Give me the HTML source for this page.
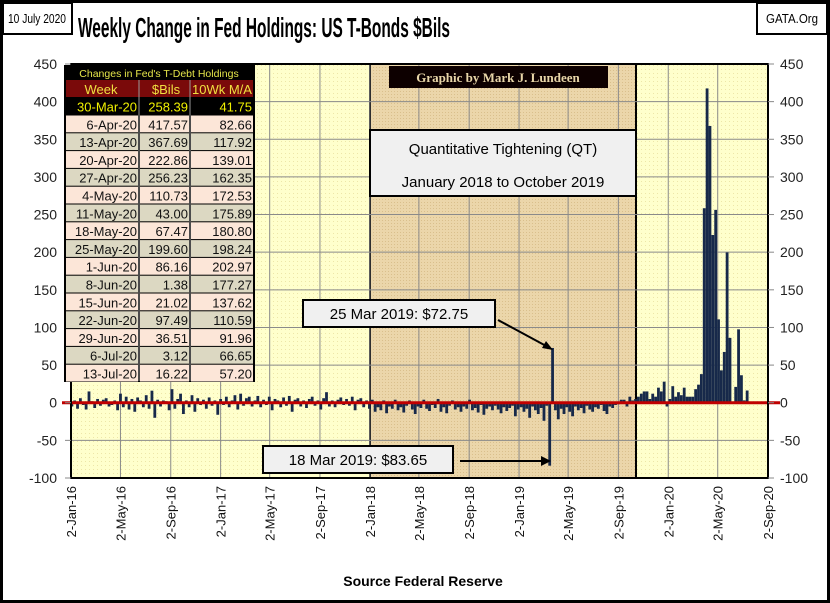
<!DOCTYPE html>
<html><head><meta charset="utf-8"><style>
body{margin:0;background:#fff;}
svg{display:block;font-family:"Liberation Sans",sans-serif;}
</style></head><body>
<svg id="c" width="830" height="603" viewBox="0 0 830 603">
<defs>
<pattern id="dots" width="4" height="4" patternUnits="userSpaceOnUse"><rect width="4" height="4" fill="#FFFFCC"/><rect x="1" y="1" width="1" height="1" fill="#EDE6A8"/></pattern>
<pattern id="tan" width="3" height="3" patternUnits="userSpaceOnUse"><rect width="3" height="3" fill="#EBD6AA"/><rect x="1" y="1" width="1" height="1" fill="#D9BF8C"/></pattern>
</defs>
<rect x="1.5" y="1.5" width="827" height="600" fill="#fff" stroke="#000" stroke-width="3"/>
<rect x="71" y="64" width="697" height="414" fill="url(#dots)"/>
<rect x="370" y="64" width="266" height="414" fill="url(#tan)" stroke="#000" stroke-width="2"/>
<g id="grid"></g>
<g id="bars"></g>
<line x1="62" x2="780" id="zero" stroke="#C00000" stroke-width="3"/>
<rect x="71" y="64" width="697" height="414" fill="none" stroke="#000" stroke-width="2"/>
<g id="axes"></g>
<rect x="3" y="3" width="69" height="31" fill="#fff" stroke="#000" stroke-width="2"/>
<text x="37" y="23" font-size="13" text-anchor="middle" textLength="58" lengthAdjust="spacingAndGlyphs">10 July 2020</text>
<rect x="757" y="3" width="70" height="31" fill="#fff" stroke="#000" stroke-width="2"/>
<text x="792" y="23" font-size="13" text-anchor="middle" textLength="52" lengthAdjust="spacingAndGlyphs">GATA.Org</text>
<text x="78" y="37" font-size="28" font-weight="bold" textLength="372" lengthAdjust="spacingAndGlyphs">Weekly Change in Fed Holdings: US T-Bonds $Bils</text>
<rect x="389" y="66" width="219" height="22" fill="#0d0000"/>
<text x="498" y="82" font-size="13" font-weight="bold" fill="#E8D6A8" text-anchor="middle" font-family="Liberation Serif,serif">Graphic by Mark J. Lundeen</text>
<rect x="370" y="130" width="266" height="66" fill="#F0F0F0" stroke="#000" stroke-width="2"/>
<text x="503" y="154" font-size="15" text-anchor="middle">Quantitative  Tightening  (QT)</text>
<text x="503" y="187" font-size="15" text-anchor="middle">January 2018 to October 2019</text>
<rect x="303" y="300" width="192" height="27" fill="#F0F0F0" stroke="#000" stroke-width="2"/>
<text x="399" y="319" font-size="15" text-anchor="middle">25 Mar 2019: $72.75</text>
<line x1="498" y1="320" x2="548" y2="347" stroke="#000" stroke-width="2"/>
<polygon points="553,350 542,348 546,341" fill="#000"/>
<rect x="263" y="446" width="190" height="27" fill="#F0F0F0" stroke="#000" stroke-width="2"/>
<text x="358" y="465" font-size="15" text-anchor="middle">18 Mar 2019: $83.65</text>
<line x1="460" y1="461" x2="545" y2="461" stroke="#000" stroke-width="2"/>
<polygon points="551,461 541,456 541,466" fill="#000"/>
<g id="table"></g>
<text x="423" y="586" font-size="14" font-weight="bold" text-anchor="middle">Source Federal Reserve</text>
</svg>
<script>
const yTicks=[-100,-50,0,50,100,150,200,250,300,350,400,450];
const xTickLabels=["2-Jan-16","2-May-16","2-Sep-16","2-Jan-17","2-May-17","2-Sep-17","2-Jan-18","2-May-18","2-Sep-18","2-Jan-19","2-May-19","2-Sep-19","2-Jan-20","2-May-20","2-Sep-20"];
const xTickDates=["2016-01-02","2016-05-02","2016-09-02","2017-01-02","2017-05-02","2017-09-02","2018-01-02","2018-05-02","2018-09-02","2019-01-02","2019-05-02","2019-09-02","2020-01-02","2020-05-02","2020-09-02"];
const firstWeek="2016-01-04";
const v2016=[-5,3,-8,6,-3,-9,15,2,-7,5,-4,4,6,-5,-3,3,-10,12,-6,8,-9,5,-12,7,3,-6,10,-8,16,-20,4,-5,3,2,-10,18,-8,5,12,-15,3,-6,10,-12,6,-3,4,-8,7,-4,3,-16];
const v2017=[5,-3,8,-6,3,10,-9,12,-4,6,8,-5,3,9,-6,4,-3,8,-10,5,3,-6,7,-4,9,-12,4,6,-5,3,-7,5,8,-4,3,-9,6,14,-5,3,-6,4,7,-3,5,-4,8,-10,4,6,-6,3];
const v2018=[-8,4,-12,-6,-10,3,-14,-5,-8,4,-10,-6,-13,-4,3,-9,-15,-5,-7,4,-8,-11,-3,-7,5,-12,-6,-14,-4,3,-9,-6,-12,-5,-8,4,-10,-7,-13,-3,-16,-8,-5,-10,-4,-9,-14,-6,-11,-7,-4,-18,-9];
const v2019=[-6,-12,-8,-20,-5,-10,-15,-7,-24,-4,-83.65,72.75,-10,-22,-8,-15,-6,-12,-18,-5,-10,-7,-14,-4,-9,-12,-6,-8,-3,-11,-15,-5,-7,-3,-2,4,4,-5,8,3,5,8,12,15,15,5,12,8,20,15,28,-5];
const v2020a=[5,22,8,14,10,20,8,8,8,18,24,38];
const tableWeeks=["30-Mar-20","6-Apr-20","13-Apr-20","20-Apr-20","27-Apr-20","4-May-20","11-May-20","18-May-20","25-May-20","1-Jun-20","8-Jun-20","15-Jun-20","22-Jun-20","29-Jun-20","6-Jul-20","13-Jul-20"];
const tableBils=[258.39,417.57,367.69,222.86,256.23,110.73,43.00,67.47,199.60,86.16,1.38,21.02,97.49,36.51,3.12,16.22];
const tableMA=[41.75,82.66,117.92,139.01,162.35,172.53,175.89,180.80,198.24,202.97,177.27,137.62,110.59,91.96,66.65,57.20];

const NS="http://www.w3.org/2000/svg";
const X0=71,X1=768,Y0=478,Y1=64;
const d0=Date.parse("2016-01-02"),d1=Date.parse("2020-09-02");
const xs=t=>X0+(t-d0)/(d1-d0)*(X1-X0);
const ys=v=>Y0-(v-(-100))/(550)*(Y0-Y1);
function mk(tag,attrs,parent){const e=document.createElementNS(NS,tag);for(const k in attrs)e.setAttribute(k,attrs[k]);parent.appendChild(e);return e;}
const grid=document.getElementById('grid'),axes=document.getElementById('axes'),bars=document.getElementById('bars');
document.getElementById('zero').setAttribute('y1',ys(0));document.getElementById('zero').setAttribute('y2',ys(0));
yTicks.forEach(v=>{const y=ys(v);
 const g=mk('line',{x1:X0,x2:X1,y1:y,y2:y,stroke:'#8a8a8a','stroke-width':1},grid);
 
 
 mk('line',{x1:X0-6,x2:X0,y1:y,y2:y,stroke:'#888'},axes);
 mk('line',{x1:X1,x2:X1+6,y1:y,y2:y,stroke:'#888'},axes);
 const t=mk('text',{x:X0-14,y:y+5,'font-size':14,'text-anchor':'end',fill:'#222'},axes);t.textContent=v;
 
 
 const t2=mk('text',{x:X1+12,y:y+5,'font-size':14,fill:'#222'},axes);t2.textContent=v;
 
 
});
xTickDates.forEach((d,i)=>{const x=xs(Date.parse(d));
 const g=mk('line',{x1:x,x2:x,y1:Y1,y2:Y0,stroke:'#8a8a8a','stroke-width':1},grid);
 
 
 const t=mk('text',{x:0,y:0,'font-size':13,'text-anchor':'end',transform:`translate(${x+5},${Y0+8}) rotate(-90)`,fill:'#111'},axes);
 t.textContent=xTickLabels[i];
 
 
});
const values=[].concat(v2016,v2017,v2018,v2019,v2020a,tableBils);
const w0=Date.parse(firstWeek);
values.forEach((v,i)=>{const x=xs(w0+i*7*86400000);const y=ys(v),yz=ys(0);
 const r=mk('rect',{x:x-1.4,y:Math.min(y,yz),width:2.8,height:Math.max(0.5,Math.abs(yz-y)),fill:'#17294A'},bars);
 
 
});
const tb=document.getElementById('table');
mk('rect',{x:64,y:65,width:191,height:317,fill:'#000'},tb);
let tt=mk('text',{x:159,y:77,'font-size':10.5,'text-anchor':'middle',fill:'#E6E64A'},tb);tt.textContent="Changes in Fed's T-Debt Holdings";


mk('rect',{x:66,y:80,width:187,height:17,fill:'#7A0A0A'},tb);
[["Week",101],["$Bils",166],["10Wk M/A",222]].forEach(([s,x])=>{const t=mk('text',{x:x,y:94,'font-size':13,'text-anchor':'middle',fill:'#F0E040'},tb);t.textContent=s;
 
 });
mk('line',{x1:139,x2:139,y1:80,y2:381,stroke:'#999'},tb);
mk('line',{x1:190,x2:190,y1:80,y2:381,stroke:'#999'},tb);
const rh=17.8;
tableWeeks.forEach((w,i)=>{const top=i==0?98:115+(i-1)*rh;const h=i==0?17:rh;
 const fill=i==0?'#000':(i%2==1?'#FCE6D8':'#DCD8C2');const col=i==0?'#F0F000':'#111';
 if(i>0){mk('rect',{x:66,y:top+0.5,width:72,height:h-1,fill:fill},tb);mk('rect',{x:140,y:top+0.5,width:49,height:h-1,fill:fill},tb);mk('rect',{x:191,y:top+0.5,width:62,height:h-1,fill:fill},tb);}
 const by=top+h-3.5;
 [[w,137],[tableBils[i].toFixed(2),188],[tableMA[i].toFixed(2),252]].forEach(([s,x])=>{const t=mk('text',{x:x,y:by,'font-size':13,'text-anchor':'end',fill:col},tb);t.textContent=s;
  
  });
});
</script>
</body></html>
